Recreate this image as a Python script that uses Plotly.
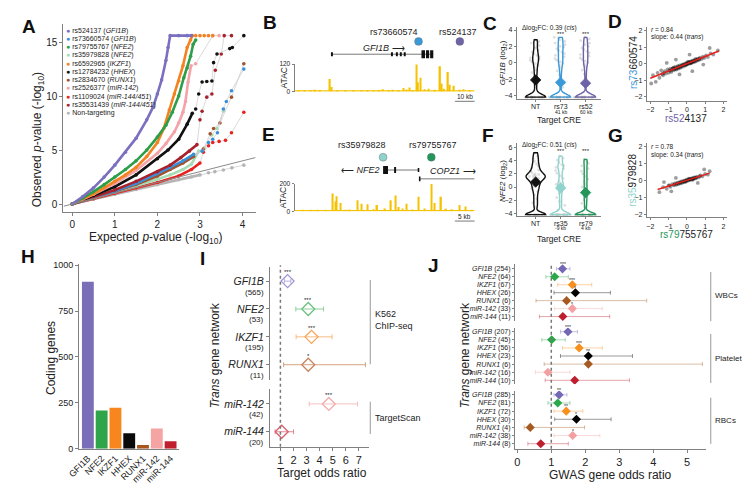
import plotly.graph_objects as go

W, H = 750, 486
FONT = "Liberation Sans, Arial, Helvetica, sans-serif"
INK = "#222222"
AXC = "#808080"

# ---------------- A: QQ plot ----------------
QQ_LABELS = ["rs524137 (<i>GFI1B</i>)", "rs73660574 (<i>GFI1B</i>)", "rs79755767 (<i>NFE2</i>)",
             "rs35979828 (<i>NFE2</i>)", "rs6592965 (<i>IKZF1</i>)", "rs12784232 (<i>HHEX</i>)",
             "rs2834670 (<i>RUNX1</i>)", "rs2526377 (<i>miR-142</i>)", "rs1109024 (<i>miR-144/451</i>)",
             "rs35531439 (<i>miR-144/451</i>)", "Non-targeting"]
QQ_COLORS = ["#7B6FC0", "#3B8FD8", "#2E9E4A", "#A6DCB3", "#F58220", "#111111",
             "#A0522D", "#F4A3A8", "#E8231F", "#A8222E", "#B5B5B5"]

rs524137_x = [0, 0.25, 0.5, 0.75, 1.0, 1.25, 1.5, 1.75, 1.9, 2.0, 2.1, 2.2, 2.25, 2.3, 2.5, 2.7, 2.8]
rs524137_y = [0, 0.7, 1.5, 2.5, 3.6, 4.8, 6.1, 7.8, 9.0, 10.2, 11.5, 13.3, 14.5, 15.6, 15.6, 15.6, 15.6]
rs73660574_x = [0, 0.5, 1.0, 1.5, 2.0, 2.3, 2.6, 2.85, 3.05, 3.2, 3.3, 3.41, 3.55, 3.62, 3.74, 4.03]
rs73660574_y = [0, 0.6, 1.2, 1.9, 2.8, 3.4, 4.0, 4.6, 4.9, 5.7, 6.0, 6.6, 8.8, 9.5, 10.5, 12.5]
rs79755767_x = [0, 0.25, 0.5, 0.75, 1.0, 1.25, 1.5, 1.75, 2.0, 2.2, 2.35, 2.5, 2.62, 2.7, 2.78, 2.84, 2.9]
rs79755767_y = [0, 0.55, 1.15, 1.8, 2.5, 3.2, 4.0, 5.0, 6.2, 7.3, 8.5, 10.0, 11.7, 12.6, 13.7, 14.8, 15.2]
rs35979828_x = [0, 0.5, 1.0, 1.5, 2.0, 2.3, 2.6, 2.8, 2.97, 3.1, 3.28, 3.4, 3.55]
rs35979828_y = [0, 0.55, 1.1, 1.7, 2.3, 2.7, 3.2, 3.7, 4.9, 5.2, 6.4, 7.0, 8.6]
rs6592965_x = [0, 0.25, 0.5, 0.75, 1.0, 1.25, 1.5, 1.75, 2.0, 2.15, 2.28, 2.4, 2.5, 2.6, 2.7, 2.78, 2.82,
               2.9, 3.0, 3.1, 3.2, 3.3]
rs6592965_y = [0, 0.45, 0.95, 1.5, 2.1, 2.7, 3.4, 4.4, 5.7, 7.0, 8.7, 10.2, 11.4, 12.8, 14.5, 15.2, 15.6,
               15.6, 15.6, 15.6, 15.6, 15.6]
rs12784232_x = [0, 0.5, 1.0, 1.5, 2.0, 2.25, 2.5, 2.7, 2.82, 2.9, 2.97, 3.05, 3.16, 3.28, 3.32, 3.4, 3.7,
                3.76, 4.03]
rs12784232_y = [0, 0.8, 1.6, 2.7, 4.2, 5.0, 6.0, 7.4, 8.4, 8.8, 10.2, 11.3, 11.35, 11.4, 13.1, 13.9, 14.4,
                14.5, 15.6]
rs2834670_x = [0, 0.5, 1.0, 1.5, 2.0, 2.3, 2.6, 2.85, 3.08, 3.24, 3.32, 3.47, 3.74, 4.03]
rs2834670_y = [0, 0.55, 1.15, 1.8, 2.6, 3.2, 3.8, 4.4, 5.1, 6.5, 7.0, 7.5, 9.9, 13.0]
rs2526377_x = [0, 0.5, 1.0, 1.5, 2.0, 2.2, 2.4, 2.5, 2.6, 2.66, 2.72, 2.79, 2.9, 3.3, 3.45]
rs2526377_y = [0, 0.9, 1.9, 3.1, 4.7, 5.6, 6.7, 7.5, 8.5, 9.5, 11.3, 12.8, 13.0, 15.6, 15.6]
rs1109024_x = [0, 0.5, 1.0, 1.5, 2.0, 2.5, 2.8, 3.0, 3.08, 3.2, 3.3, 3.45, 3.6, 3.74, 4.03]
rs1109024_y = [0, 0.5, 1.0, 1.5, 2.0, 2.6, 3.2, 3.8, 4.8, 5.4, 5.7, 5.8, 5.9, 6.6, 8.5]
rs35531439_x = [0, 0.5, 1.0, 1.5, 2.0, 2.3, 2.55, 2.75, 2.93, 3.0, 3.05, 3.16, 3.28, 3.36, 3.5, 3.57, 3.74]
rs35531439_y = [0, 0.65, 1.3, 2.1, 3.0, 3.6, 4.3, 4.9, 5.5, 7.8, 8.6, 9.9, 10.2, 12.4, 13.9, 15.6, 15.6]
nontargeting_x = [0, 0.5, 1.0, 1.5, 2.0, 2.5, 2.8, 3.0, 3.2, 3.35, 3.55, 3.75, 4.03]
nontargeting_y = [0, 0.45, 0.9, 1.35, 1.8, 2.25, 2.5, 2.7, 2.9, 3.0, 3.15, 3.35, 3.6]

# ---------------- B / E: ATAC tracks (kb, signal) ----------------
B_ATAC_KB = [2, 5, 8, 10.5, 13, 18, 18.7, 22, 26, 30, 34, 37, 40, 43, 45, 48, 50, 53, 55.5, 57, 58.5,
             60, 62, 62.8, 64, 66, 68, 71, 74, 74.8, 76, 78, 79, 81, 84, 86, 89]
B_ATAC_H = [3, 4, 3, 8, 4, 55, 20, 4, 5, 3, 4, 6, 6, 4, 10, 5, 8, 6, 15, 9, 18, 7, 118, 40, 60, 10, 12,
            8, 110, 35, 12, 85, 30, 25, 8, 10, 6]
E_ATAC_KB = [2, 4, 6, 8, 9.75, 10.4, 10.75, 11.75, 13, 14, 16, 17, 18.5, 20, 21, 23, 24.5, 25.75, 26.5,
             27.5, 28.5, 30, 31.5, 33, 34.75, 35.5, 37.25, 38.5, 40, 42, 43.5, 45]
E_ATAC_H = [5, 8, 10, 6, 130, 70, 110, 60, 10, 12, 80, 55, 50, 15, 45, 20, 80, 115, 30, 20, 55, 12, 105,
            20, 200, 60, 105, 18, 15, 45, 35, 8]

# ---------------- C / F: expression per target CRE ----------------
C_TICKS = ["NT", "rs73", "rs52"]
C_SUB = ["", "41 kb", "60 kb"]
C_COLORS = ["#111111", "#3A9AD9", "#6E62A8"]
C_NT = [-4.2, -4.2, -4.2, -4.2, -4.2, -4.2, -4.2, -4.2, -4.2, -4.2, -4.2, -4.2, -4.2, -4.2, -4.2, -4.2,
        -4.2, -4.2, -3.4, -2.9, -2.5, -2.0, -1.6, -1.2, -0.9, -0.6, -0.3, -0.1, 0.1, 0.3, 0.4, 0.6, 0.7,
        0.9, 1.1, 1.3, 1.5, 1.8, 2.1, 2.4, 2.6, 2.8]
C_RS73 = [-4.2, -4.2, -4.2, -4.2, -4.2, -4.2, -4.2, -4.2, -4.2, -4.2, -4.2, -4.2, -4.2, -4.2, -4.2, -4.2,
          -4.2, -4.2, -4.2, -4.2, -3.0, -2.2, -1.5, -1.0, -0.6, -0.3, -0.1, 0.1, 0.3, 0.5, 0.7, 0.9, 1.1,
          1.3, 1.5, 1.7, 1.9, 2.0, 2.2, 2.4, 2.6, 2.8, 3.0, 3.1]
C_RS52 = [-4.2, -4.2, -4.2, -4.2, -4.2, -4.2, -4.2, -4.2, -4.2, -4.2, -4.2, -4.2, -4.2, -4.2, -4.2, -4.2,
          -4.2, -4.2, -4.2, -4.2, -2.8, -2.0, -1.4, -0.9, -0.5, -0.2, 0.0, 0.2, 0.4, 0.6, 0.8, 1.0, 1.2,
          1.4, 1.6, 1.8, 2.0, 2.2, 2.4, 2.7, 2.9, 3.1]
C_MEANS = [-2.1, -2.4, -2.5]
C_SIG = ["", "***", "***"]

F_TICKS = ["NT", "rs35", "rs79"]
F_SUB = ["", "-9 kb", "4 kb"]
F_COLORS = ["#111111", "#8FD3CC", "#23965A"]
F_NT = [-4.2, -4.2, -4.2, -4.2, -4.2, -4.2, -4.2, -4.2, -3.0, -2.4, -1.8, -1.2, -0.7, -0.3, 0.0, 0.3,
        0.6, 0.8, 1.0, 1.2, 1.3, 1.4, 1.5, 1.6, 1.7, 1.8, 1.9, 2.0, 2.2, 2.4, 2.6, 2.9, 3.2, 3.5, 3.9,
        4.3, 4.7, 5.2]
F_RS35 = [-4.2, -4.2, -4.2, -4.2, -4.2, -4.2, -4.2, -4.2, -4.2, -4.2, -4.2, -4.2, -4.2, -4.2, -3.5, -2.8,
          -2.2, -1.6, -1.0, -0.5, -0.2, 0.0, 0.2, 0.4, 0.6, 0.9, 1.3, 1.7, 2.1, 2.5, 2.8, 3.0, 3.2, 3.4,
          3.7, 4.1, 4.4, 4.7]
F_RS79 = [-4.2, -4.2, -4.2, -4.2, -4.2, -4.2, -4.2, -4.2, -4.2, -4.2, -4.2, -4.2, -4.2, -4.2, -4.2, -4.2,
          -3.0, -2.5, -2.0, -1.6, -1.2, -0.8, -0.4, 0.0, 0.4, 0.8, 1.2, 1.6, 2.0, 2.4, 2.8, 3.2, 3.6, 3.9,
          4.2]
F_MEANS = [0.75, -0.15, -0.85]
F_SIG = ["", "***", "***"]

# ---------------- D / G: trans effects of two CREs ----------------
D_X = [-1.95, -1.85, -1.60, -1.50, -1.40, -1.30, -1.20, -1.15, -1.05, -1.00, -0.95, -0.90, -0.85, -0.80,
       -0.75, -0.72, -0.68, -0.62, -0.58, -0.55, -0.50, -0.47, -0.42, -0.38, -0.35, -0.30, -0.25, -0.22,
       -0.18, -0.12, -0.08, -0.05, 0.00, 0.04, 0.08, 0.12, 0.16, 0.20, 0.24, 0.28, 0.32, 0.36, 0.40, 0.45,
       0.50, 0.55, 0.60, 0.66, 0.72, 0.80, 0.88, 0.95, 1.05, 1.15, 1.30, 1.45, 1.70, -1.10, 0.30, -0.60,
       0.90, -0.40, 0.15, 1.25, -1.70, -0.90, -0.78, -0.66, -0.52, -0.44, -0.33, -0.27, -0.16, -0.06,
       0.02, 0.10, 0.18, 0.26, 0.34, 0.42, 0.52, 0.62, 0.70, -1.25, -1.35, 0.06, -0.02, 0.22, -0.70, 0.46]
D_Y = [-1.20, -0.70, -0.55, -0.85, -0.40, -0.70, -0.45, -0.60, -0.35, -0.55, -0.40, -0.30, -0.50, -0.35,
       -0.25, -0.40, -0.30, -0.20, -0.35, -0.28, -0.15, -0.30, -0.22, -0.10, -0.25, -0.15, -0.05, -0.18,
       -0.08, -0.12, 0.02, -0.06, 0.05, -0.02, 0.08, 0.00, 0.10, 0.04, 0.14, 0.06, 0.18, 0.10, 0.20, 0.12,
       0.26, 0.18, 0.30, 0.22, 0.36, 0.28, 0.42, 0.35, 0.50, 0.40, 0.62, 0.55, 0.80, 0.05, -0.45, 0.25,
       -0.05, -0.65, 0.55, 0.95, -1.10, -0.42, -0.30, -0.33, -0.24, -0.16, -0.19, -0.10, -0.03, -0.10,
       0.00, 0.04, 0.12, 0.09, 0.16, 0.15, 0.22, 0.26, 0.30, -0.55, -0.62, 0.12, -0.02, 0.02, -0.22, 0.28]
D_FIT_X = [-2.0, 1.75]
D_FIT_Y = [-0.88, 0.77]
G_X = [-1.50, -1.30, -1.10, -1.00, -0.90, -0.80, -0.72, -0.65, -0.58, -0.52, -0.46, -0.40, -0.35, -0.30,
       -0.25, -0.20, -0.15, -0.10, -0.05, 0.00, 0.05, 0.10, 0.15, 0.20, 0.25, 0.30, 0.35, 0.40, 0.48, 0.55,
       0.65, 0.75, 0.85, 1.00, 1.15, 1.25, -1.25, 0.60, -0.60, 0.95, -0.85, -0.68, -0.55, -0.42, -0.32,
       -0.22, -0.12, -0.02, 0.08, 0.18, 0.28, 0.38, 0.45, 0.52, 0.70, -0.95, 0.12, -0.08, 0.32]
G_Y = [-0.70, -0.40, -0.50, -0.30, -0.38, -0.22, -0.30, -0.18, -0.26, -0.14, -0.22, -0.10, -0.18, -0.06,
       -0.14, -0.04, -0.10, 0.00, -0.06, 0.04, -0.02, 0.08, 0.02, 0.10, 0.05, 0.14, 0.08, 0.18, 0.12, 0.22,
       0.18, 0.30, 0.24, 0.38, 0.34, 0.55, -0.10, -0.15, 0.15, 0.65, -0.65, -0.24, -0.20, -0.15, -0.12,
       -0.08, -0.03, 0.00, 0.03, 0.06, 0.10, 0.12, 0.16, 0.17, 0.25, -0.30, 0.10, -0.08, 0.04]
G_FIT_X = [-1.6, 1.25]
G_FIT_Y = [-0.54, 0.43]

# ---------------- H: coding genes per network ----------------
H_GENES = ["GFI1B", "NFE2", "IKZF1", "HHEX", "RUNX1", "miR-142", "miR-144"]
H_COUNTS = [910, 209, 223, 84, 21, 111, 41]
H_COLORS = ["#7A6EB8", "#2EA44B", "#F7861F", "#0A0A0A", "#A8551E", "#F5A3A3", "#C0202E"]

# ---------------- I: target odds ratios ----------------
I_TOP_GENES = ["GFI1B", "NFE2", "IKZF1", "RUNX1"]
I_TOP_N = [565, 53, 195, 11]
I_TOP_OR = [1.55, 3.13, 3.38, 3.13]
I_TOP_LO = [1.3, 2.18, 2.2, 1.25]
I_TOP_HI = [1.8, 4.3, 4.95, 7.5]
I_TOP_SIG = ["***", "***", "***", "*"]
I_TOP_COLORS = ["#9F97D6", "#6CC27F", "#F5A55A", "#C8835A"]
I_BOT_GENES = ["miR-142", "miR-144"]
I_BOT_N = [42, 20]
I_BOT_OR = [4.7, 1.1]
I_BOT_LO = [3.2, 0.6]
I_BOT_HI = [6.9, 2.0]
I_BOT_SIG = ["***", ""]
I_BOT_COLORS = ["#F2ACAC", "#D96070"]

# ---------------- J: GWAS gene odds ratios ----------------
J_GENES = ["GFI1B", "NFE2", "IKZF1", "HHEX", "RUNX1", "miR-142", "miR-144"]
J_COLORS = ["#7468B5", "#2BA84A", "#F7901E", "#000000", "#A65A22", "#F4A0A3", "#BE1E2D"]
J_TRAITS = ["WBCs", "Platelets", "RBCs"]
J_WBC_N = [254, 64, 67, 26, 6, 33, 11]
J_WBC_OR = [1.33, 1.10, 1.62, 1.71, 1.45, 1.62, 1.34]
J_WBC_LO = [1.15, 0.84, 1.19, 1.08, 0.55, 1.10, 0.65]
J_WBC_HI = [1.55, 1.50, 2.19, 2.74, 3.81, 2.50, 2.72]
J_WBC_SIG = ["***", "", "***", "*", "", "*", ""]
J_PLT_N = [207, 45, 56, 23, 6, 16, 10]
J_PLT_OR = [1.49, 1.01, 1.82, 2.09, 2.09, 0.90, 1.69]
J_PLT_LO = [1.27, 0.72, 1.33, 1.27, 0.79, 0.53, 0.82]
J_PLT_HI = [1.77, 1.41, 2.50, 3.39, 5.45, 1.55, 3.30]
J_PLT_SIG = ["***", "", "***", "**", "", "", ""]
J_RBC_N = [285, 81, 72, 30, 4, 38, 8]
J_RBC_OR = [1.23, 1.19, 1.44, 1.74, 0.38, 1.63, 0.69]
J_RBC_LO = [1.08, 0.90, 1.08, 1.10, 0.20, 1.08, 0.31]
J_RBC_HI = [1.46, 1.55, 1.93, 2.76, 1.98, 2.43, 1.50]
J_RBC_SIG = ["**", "", "**", "*", "", "*", ""]


def X(p):
    return p / W


def Y(p):
    return 1 - p / H


def rgba(hexc, a):
    h = hexc.lstrip("#")
    return "rgba(%d,%d,%d,%.2f)" % (int(h[0:2], 16), int(h[2:4], 16), int(h[4:6], 16), a)


fig = go.Figure()
ann = []
shp = []
layout = dict(width=W, height=H, margin=dict(l=0, r=0, t=0, b=0), paper_bgcolor="white",
              plot_bgcolor="white", showlegend=False, violinmode="overlay",
              font=dict(family=FONT, size=9, color=INK))


def axes(n, xdom, ydom, xr, yr, xkw=None, ykw=None):
    s = "" if n == 1 else str(n)
    base = dict(showgrid=False, zeroline=False, showline=True, linecolor=AXC, linewidth=1,
                ticks="outside", ticklen=3, tickwidth=1, tickcolor=AXC,
                tickfont=dict(size=9, color=INK, family=FONT))
    xa = dict(base, domain=[X(xdom[0]), X(xdom[1])], range=xr, anchor="y" + s)
    ya = dict(base, domain=[Y(ydom[1]), Y(ydom[0])], range=yr, anchor="x" + s)
    xa.update(xkw or {})
    ya.update(ykw or {})
    layout["xaxis" + s] = xa
    layout["yaxis" + s] = ya


def text(x, y, s, size=9, xa="center", ya="middle", color=INK, angle=0, bold=False):
    if bold:
        s = "<b>" + s + "</b>"
    ann.append(dict(x=X(x), y=Y(y), xref="paper", yref="paper", text=s, showarrow=False,
                    font=dict(size=size, color=color, family=FONT), xanchor=xa, yanchor=ya,
                    textangle=angle, borderpad=0))


def dtext(n, x, y, s, size=6, yshift=0):
    ann.append(dict(x=x, y=y, xref="x%d" % n, yref="y%d" % n, text=s, showarrow=False,
                    font=dict(size=size, color=INK, family=FONT), xanchor="center", yanchor="middle",
                    yshift=yshift, borderpad=0))


def pline(x0, y0, x1, y1, color=AXC, width=1):
    shp.append(dict(type="line", xref="paper", yref="paper", x0=X(x0), y0=Y(y0), x1=X(x1), y1=Y(y1),
                    line=dict(color=color, width=width)))


# ======== panel letters ========
for lab, lx, ly in [("A", 9, 15), ("B", 254, 11), ("C", 478, 12), ("D", 605, 10), ("E", 253, 125),
                    ("F", 476, 126), ("G", 605, 126), ("H", 8, 249), ("I", 185, 251), ("J", 420, 258)]:
    text(lx, ly, lab, size=19, bold=True, color="#111111")

# ======== A ========
axes(1, (44, 240), (12, 204), [-0.21, 4.32], [-0.76, 16.7],
     dict(tickvals=[0, 1, 2, 3, 4], tickfont=dict(size=10, color=INK)),
     dict(tickvals=[0, 5, 10, 15], tickfont=dict(size=10, color=INK)))
shp.append(dict(type="line", xref="x", yref="y", x0=-0.2, y0=-0.2, x1=4.3, y1=4.3,
                line=dict(color="#8a8a8a", width=1)))
QQ_X = [rs524137_x, rs73660574_x, rs79755767_x, rs35979828_x, rs6592965_x, rs12784232_x,
        rs2834670_x, rs2526377_x, rs1109024_x, rs35531439_x, nontargeting_x]
QQ_Y = [rs524137_y, rs73660574_y, rs79755767_y, rs35979828_y, rs6592965_y, rs12784232_y,
        rs2834670_y, rs2526377_y, rs1109024_y, rs35531439_y, nontargeting_y]
QQ_DENSE_TO = [2.8, 2.85, 2.9, 2.97, 2.82, 2.82, 2.85, 2.8, 3.0, 2.93, 3.0]
QQ_ORDER = [10, 8, 3, 6, 1, 9, 5, 7, 4, 2, 0]
for i in QQ_ORDER:
    xs, ys = QQ_X[i], QQ_Y[i]
    fig.add_trace(go.Scatter(x=xs, y=ys, mode="lines+markers", line=dict(color="#cfcfcf", width=0.8),
                             marker=dict(size=3.6, color=QQ_COLORS[i]), xaxis="x", yaxis="y"))
    k = [j for j, v in enumerate(xs) if v <= QQ_DENSE_TO[i]]
    fig.add_trace(go.Scatter(x=[xs[j] for j in k], y=[ys[j] for j in k], mode="lines",
                             line=dict(color=QQ_COLORS[i], width=2.6), xaxis="x", yaxis="y"))
for i, lab in enumerate(QQ_LABELS):
    text(46, 19 + 8.4 * i, "<span style='color:%s'>\u25cf</span> %s" % (QQ_COLORS[i], lab),
         size=7, xa="left")
text(18, 130, "Observed <i>p</i>-value (-log<sub>10</sub>)", size=12, angle=-90)
text(138, 230, "Expected <i>p</i>-value (-log<sub>10</sub>)", size=12)

# ======== B / E genome tracks ========
ATAC = "#F5C200"
ytk = dict(tickfont=dict(size=6.5, color=INK), ticklen=2)
axes(2, (279, 462), (53, 81), [0, 91.5], [0, 120], dict(visible=False), dict(ytk, tickvals=[0, 120]))
axes(5, (279, 462), (175, 203), [0, 45.75], [0, 200], dict(visible=False), dict(ytk, tickvals=[0, 200]))
fig.add_trace(go.Bar(x=B_ATAC_KB, y=B_ATAC_H, width=0.7, marker=dict(color=ATAC, line=dict(width=0)),
                     xaxis="x2", yaxis="y2"))
fig.add_trace(go.Bar(x=E_ATAC_KB, y=E_ATAC_H, width=0.35, marker=dict(color=ATAC, line=dict(width=0)),
                     xaxis="x5", yaxis="y5"))
shp.append(dict(type="line", xref="x2", yref="y2", x0=0, x1=91.5, y0=2, y1=2,
                line=dict(color=ATAC, width=1.5)))
shp.append(dict(type="line", xref="x5", yref="y5", x0=0, x1=45.75, y0=3, y1=3,
                line=dict(color=ATAC, width=1.5)))
text(268, 67, "ATAC", size=8.5, angle=-90)
text(268, 189, "ATAC", size=8.5, angle=-90)


def gline(n, x0, x1, yp, w=0.8):
    shp.append(dict(type="line", xref="x%d" % n, yref="paper", x0=x0, x1=x1, y0=Y(yp), y1=Y(yp),
                    line=dict(color="#555", width=w)))


def exon(n, x0, x1, yp, h):
    shp.append(dict(type="rect", xref="x%d" % n, yref="paper", x0=x0, x1=x1, y0=Y(yp + h / 2),
                    y1=Y(yp - h / 2), fillcolor="#111", line=dict(width=0)))


def dot(n, x, yp, color):
    xx = layout["xaxis%d" % n]
    px_ = xx["domain"][0] * W + (x - xx["range"][0]) / (xx["range"][1] - xx["range"][0]) * \
        (xx["domain"][1] - xx["domain"][0]) * W
    shp.append(dict(type="circle", xref="paper", yref="paper", x0=X(px_ - 4), x1=X(px_ + 4),
                    y0=Y(yp + 4), y1=Y(yp - 4), fillcolor=color, line=dict(color="#666", width=0.4)))


def dlabel(n, x, yp, s, xa="center", ya="middle", size=9):
    ann.append(dict(x=x, y=Y(yp), xref="x%d" % n, yref="paper", text=s, showarrow=False,
                    font=dict(size=size, color=INK, family=FONT), xanchor=xa, yanchor=ya, borderpad=0))


# B: GFI1B locus
gline(2, 19, 70.5, 43)
for e in [19, 49.5, 52, 54, 56]:
    exon(2, e - 0.5, e + 0.5, 43, 4)
for e0, e1 in [(64.5, 66.3), (66.8, 68.4), (68.9, 70.5)]:
    exon(2, e0, e1, 43, 8)
dlabel(2, 45.5, 37, "<i>GFI1B</i> \u27f6")
for kb, lab, col, tkb in [(63, "rs73660574", "#3A9AD9", 50.5), (84, "rs524137", "#6E62A8", 83)]:
    dot(2, kb, 30, col)
    dlabel(2, tkb, 20, lab)
pline(442, 91, 462, 91, color="#555", width=0.8)
text(452, 86, "10 kb", size=6.5)

# E: NFE2 / COPZ1 locus
gline(5, 23.25, 31.5, 161)
exon(5, 22.5, 23.75, 161, 8)
exon(5, 25.3, 25.8, 161, 6)
exon(5, 31.3, 31.7, 161, 4)
dlabel(5, 22.0, 161, "\u27f5 <i>NFE2</i>", xa="right")
gline(5, 31.75, 45.75, 170)
exon(5, 31.6, 32.0, 170, 5)
dlabel(5, 40.2, 168, "<i>COPZ1</i> \u27f6", ya="bottom")
for kb, lab, col, tkb in [(22.5, "rs35979828", "#8FD3CC", 17.25), (34.75, "rs79755767", "#23965A", 35.25)]:
    dot(5, kb, 148, col)
    dlabel(5, tkb, 136, lab)
pline(442, 213, 462, 213, color="#555", width=0.8)
text(452, 208.5, "5 kb", size=6.5)

# ======== C / F violins ========
tk7 = dict(size=7, color=INK)
axes(3, (505, 590), (15, 89), [-0.75, 2.6], [-4.47, 4.4],
     dict(tickvals=[0, 1, 2], showticklabels=False, ticklen=2),
     dict(tickvals=[-4, -2, 0, 2, 4], tickfont=tk7, ticklen=2))
axes(6, (505, 590), (133, 208), [-0.75, 2.6], [-4.43, 6.76],
     dict(tickvals=[0, 1, 2], showticklabels=False, ticklen=2),
     dict(tickvals=[-4, -2, 0, 2, 4, 6], tickfont=tk7, ticklen=2))


def violins(n, groups, colors, means, sig, top, ticks, subs, axis_y):
    for i, vals in enumerate(groups):
        fig.add_trace(go.Violin(y=vals, x0=i, width=0.95, points="all", jitter=1, pointpos=0,
                                line=dict(width=0), fillcolor="rgba(0,0,0,0)", spanmode="hard",
                                bandwidth=0.35, marker=dict(size=2.8, color="rgba(150,150,150,0.3)"),
                                xaxis="x%d" % n, yaxis="y%d" % n))
    for i, vals in enumerate(groups):
        fig.add_trace(go.Violin(y=vals, x0=i, width=0.8, points=False, spanmode="hard", bandwidth=0.35,
                                line=dict(color=colors[i], width=1.4), fillcolor="rgba(255,255,255,0)",
                                xaxis="x%d" % n, yaxis="y%d" % n))
    fig.add_trace(go.Scatter(x=[0, 1, 2], y=means, mode="markers",
                             marker=dict(symbol="diamond", size=8, color=colors,
                                         line=dict(color=colors, width=0.8)),
                             xaxis="x%d" % n, yaxis="y%d" % n))
    for i, s in enumerate(sig):
        if s:
            dtext(n, i, top, s, size=6)
    for i in range(3):
        dlabel(n, i, axis_y + 7, ticks[i], size=7)
        if subs[i]:
            dlabel(n, i, axis_y + 12.5, subs[i], size=5)


violins(3, [C_NT, C_RS73, C_RS52], C_COLORS, C_MEANS, C_SIG, 3.55, C_TICKS, C_SUB, 89)
violins(6, [F_NT, F_RS35, F_RS79], F_COLORS, F_MEANS, F_SIG, 5.5, F_TICKS, F_SUB, 208)
text(509, 16, "\u0394log<sub>2</sub>FC: 0.39 (<i>cis</i>)", size=6.5, xa="left")
text(509, 136, "\u0394log<sub>2</sub>FC: 0.51 (<i>cis</i>)", size=6.5, xa="left")
text(491, 52, "<i>GFI1B</i> (log<sub>2</sub>)", size=8, angle=-90)
text(491, 172, "<i>NFE2</i> (log<sub>2</sub>)", size=8, angle=-90)
text(548, 110, "Target CRE", size=8.5)
text(548, 231, "Target CRE", size=8.5)

# ======== D / G scatter ========
axes(4, (637, 718), (15, 90.7), [-2.19, 2.17], [-2.26, 2.24],
     dict(tickvals=[-2, -1, 0, 1, 2], tickfont=tk7, ticklen=2),
     dict(tickvals=[-2, -1, 0, 1, 2], tickfont=tk7, ticklen=2))
axes(7, (637, 718), (133, 209.3), [-2.19, 2.17], [-2.2, 2.25],
     dict(tickvals=[-2, -1, 0, 1, 2], tickfont=tk7, ticklen=2),
     dict(tickvals=[-2, -1, 0, 1, 2], tickfont=tk7, ticklen=2))
for n, xs, ys, fx, fy in [(4, D_X, D_Y, D_FIT_X, D_FIT_Y), (7, G_X, G_Y, G_FIT_X, G_FIT_Y)]:
    fig.add_trace(go.Scatter(x=xs, y=ys, mode="markers",
                             marker=dict(size=3.8, color="rgba(10,10,10,0.4)", line=dict(width=0)),
                             xaxis="x%d" % n, yaxis="y%d" % n))
    fig.add_trace(go.Scatter(x=fx, y=fy, mode="lines", line=dict(color="#E8201C", width=1.4),
                             xaxis="x%d" % n, yaxis="y%d" % n))
text(640, 17.5, "<i>r</i> = 0.84", size=6.5, xa="left")
text(640, 25.5, "slope: 0.44 (<i>trans</i>)", size=6.5, xa="left")
text(640, 137.5, "<i>r</i> = 0.78", size=6.5, xa="left")
text(640, 145.5, "slope: 0.34 (<i>trans</i>)", size=6.5, xa="left")
text(677, 108, "<span style='color:#6E62A8'>rs52</span>4137", size=10)
text(623, 52, "<span style='color:#3A96D6'>rs73</span>660574", size=10, angle=-90)
text(677, 227, "<span style='color:#23965A'>rs79</span>755767", size=10)
text(623, 172, "<span style='color:#8FD3CC'>rs35</span>979828", size=10, angle=-90)

# ======== H bars ========
axes(8, (60, 162), (257, 445), [-0.64, 6.64], [0, 1005],
     dict(tickvals=list(range(7)), ticktext=H_GENES, tickangle=-45, ticks="",
          tickfont=dict(size=9, color=INK)),
     dict(tickvals=[0, 250, 500, 750, 1000], tickfont=dict(size=9, color=INK)))
fig.add_trace(go.Bar(x=list(range(7)), y=H_COUNTS, width=0.86,
                     marker=dict(color=H_COLORS, line=dict(width=0)), xaxis="x8", yaxis="y8"))
text(32, 352, "Coding genes", size=12, angle=-90)

# ======== I odds ratios ========
axes(9, (254, 355), (260, 375), [0.2, 7.8], [3.55, -0.5], dict(visible=False),
     dict(tickvals=[0, 1, 2, 3], ticktext=["<i>%s</i>" % g for g in I_TOP_GENES],
          tickfont=dict(size=10.5, color=INK)))
axes(10, (254, 355), (384, 443), [0.2, 7.8], [1.54, -0.54],
     dict(tickvals=[1, 2, 3, 4, 5, 6, 7], tickfont=dict(size=11, color=INK)),
     dict(tickvals=[0, 1], ticktext=["<i>%s</i>" % g for g in I_BOT_GENES],
          tickfont=dict(size=10.5, color=INK)))
for n, orv, lo, hi, cols, ns, sig in [(9, I_TOP_OR, I_TOP_LO, I_TOP_HI, I_TOP_COLORS, I_TOP_N, I_TOP_SIG),
                                       (10, I_BOT_OR, I_BOT_LO, I_BOT_HI, I_BOT_COLORS, I_BOT_N, I_BOT_SIG)]:
    for i in range(len(orv)):
        fig.add_trace(go.Scatter(
            x=[orv[i]], y=[i], mode="markers",
            marker=dict(symbol="diamond-open", size=10, color=cols[i], line=dict(width=1.3)),
            error_x=dict(type="data", symmetric=False, array=[hi[i] - orv[i]], arrayminus=[orv[i] - lo[i]],
                         color=rgba(cols[i], 0.75), thickness=1, width=2.5),
            xaxis="x%d" % n, yaxis="y%d" % n))
        if sig[i]:
            dtext(n, orv[i], i, sig[i], size=6, yshift=9)
        ann.append(dict(x=X(249), y=i, xref="paper", yref="y%d" % n, text="(%d)" % ns[i], showarrow=False,
                        font=dict(size=8, color=INK, family=FONT), xanchor="right", yanchor="middle",
                        yshift=-11, borderpad=0))
shp.append(dict(type="line", xref="x10", yref="paper", x0=1, x1=1, y0=Y(443), y1=Y(258),
                line=dict(color="#777", width=1.5, dash="dot")))
pline(356, 273, 356, 359, color="#aaa", width=1.2)
pline(356, 397, 356, 430, color="#aaa", width=1.2)
text(360, 308, "K562", size=9, xa="left")
text(360, 320, "ChIP-seq", size=9, xa="left")
text(360, 414, "TargetScan", size=9, xa="left")
text(307, 470, "Target odds ratio", size=12)
text(198, 350, "<i>Trans</i> gene network", size=12, angle=-90)

# ======== J GWAS odds ratios ========
J_OR = [J_WBC_OR, J_PLT_OR, J_RBC_OR]
J_LO = [J_WBC_LO, J_PLT_LO, J_RBC_LO]
J_HI = [J_WBC_HI, J_PLT_HI, J_RBC_HI]
J_N = [J_WBC_N, J_PLT_N, J_RBC_N]
J_SIG = [J_WBC_SIG, J_PLT_SIG, J_RBC_SIG]
J_DOMS = [(257, 315, [6.58, -0.58]), (321.7, 379.3, [6.49, -0.49]), (386, 445, [6.62, -0.49])]
for g in range(3):
    n = 11 + g
    y0, y1, yr = J_DOMS[g]
    xkw = dict(tickvals=[0, 1, 2, 3, 4, 5], tickfont=dict(size=11, color=INK)) if g == 2 else dict(visible=False)
    axes(n, (503, 697), (y0, y1), [-0.07, 5.55], yr, xkw,
         dict(tickvals=list(range(7)), ticklen=2,
              ticktext=["<i>%s</i> (%d)" % (J_GENES[i], J_N[g][i]) for i in range(7)],
              tickfont=dict(size=7, color=INK)))
    for i in range(7):
        orv = J_OR[g][i]
        fig.add_trace(go.Scatter(
            x=[orv], y=[i], mode="markers",
            marker=dict(symbol="diamond", size=7, color=J_COLORS[i], line=dict(width=0)),
            error_x=dict(type="data", symmetric=False, array=[J_HI[g][i] - orv],
                         arrayminus=[orv - J_LO[g][i]], color=rgba(J_COLORS[i], 0.4), thickness=1, width=2),
            xaxis="x%d" % n, yaxis="y%d" % n))
        if J_SIG[g][i]:
            dtext(n, orv, i, J_SIG[g][i], size=5, yshift=5)
shp.append(dict(type="line", xref="x13", yref="paper", x0=1, x1=1, y0=Y(445), y1=Y(257),
                line=dict(color="#777", width=1.5, dash="dot")))
for (a, b), lab, ly in zip([(265, 315), (328, 378), (393, 440)], J_TRAITS, [289, 353, 416]):
    pline(702, a, 702, b, color="#999", width=1)
    text(705, ly, lab, size=8, xa="left")
text(600, 472, "GWAS gene odds ratio", size=12)
text(452, 350, "<i>Trans</i> gene network", size=12, angle=-90)

layout["annotations"] = ann
layout["shapes"] = shp
fig.update_layout(**layout)
fig.write_html("out.html")
